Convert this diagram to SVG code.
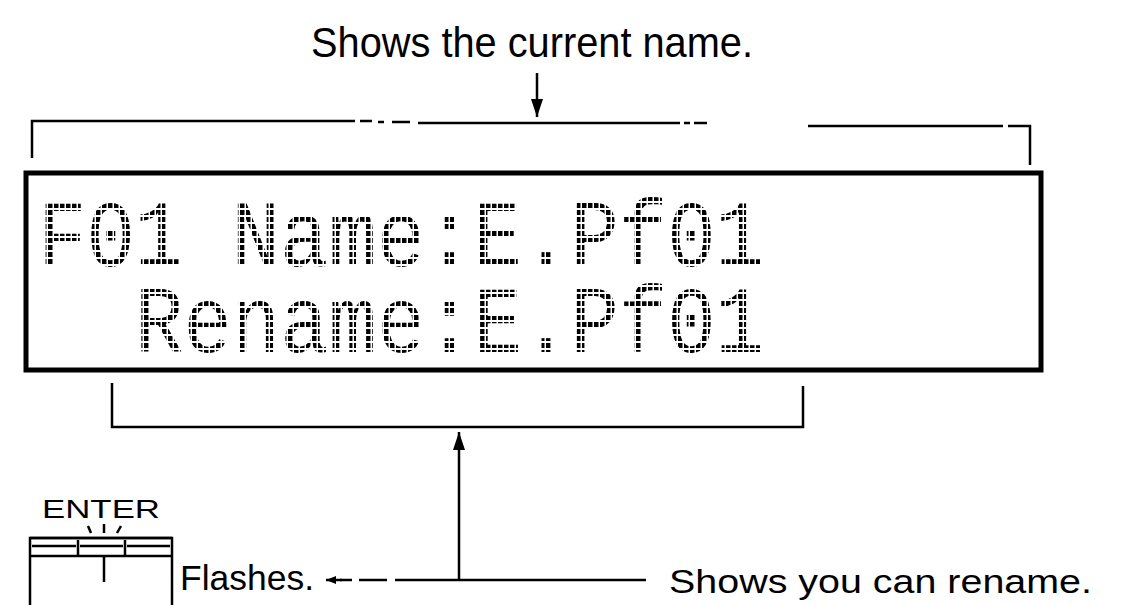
<svg xmlns="http://www.w3.org/2000/svg" width="1125" height="605" viewBox="0 0 1125 605">
  <style>
    .lbl { font-family: "Liberation Sans", Arial, sans-serif; fill: #000; }
    .lcd { font-family: "Liberation Mono", "DejaVu Sans Mono", monospace; fill: url(#dots); }
    .ln { stroke: #000; stroke-width: 2.5; fill: none; }
    .thick { stroke: #000; stroke-width: 5; fill: none; }
  </style>
  <defs>
    <pattern id="dots" width="6" height="7" patternUnits="userSpaceOnUse">
      <rect x="0" y="0" width="4.5" height="5" fill="#000"/>
    </pattern>
    <marker id="arr" viewBox="0 0 18 12" refX="18" refY="6" markerWidth="18" markerHeight="12" markerUnits="userSpaceOnUse" orient="auto">
      <path d="M0,0 L18,6 L0,12 Z" fill="#000"/>
    </marker>
    <marker id="arrSmall" viewBox="0 0 10 8" refX="10" refY="4" markerWidth="10" markerHeight="8" markerUnits="userSpaceOnUse" orient="auto">
      <path d="M0,0 L10,4 L0,8 Z" fill="#000"/>
    </marker>
  </defs>
  <rect width="1125" height="605" fill="#fff"/>

  <g id="label-current">
    <text class="lbl" x="311" y="57" font-size="43" textLength="442" lengthAdjust="spacingAndGlyphs">Shows the current name.</text>
  </g>

  <g id="lcd-display">
    <rect x="26" y="173" width="1015" height="197" class="thick"/>
    <text class="lcd" x="38" y="266" font-size="95" textLength="726" lengthAdjust="spacingAndGlyphs">F01 Name:E.Pf01</text>
    <text class="lcd" x="135" y="352" font-size="95" textLength="629" lengthAdjust="spacingAndGlyphs">Rename:E.Pf01</text>
  </g>

  <g id="enter-key">
    <text class="lbl" x="42" y="518" font-size="26" textLength="118" lengthAdjust="spacingAndGlyphs">ENTER</text>
    <path d="M88,526 L91,533 M104,524 V533 M121,526 L117,533" class="ln" stroke-width="2"/>
    <path d="M30,605 V538 H172 V605" class="ln" stroke-width="3.5"/>
    <path d="M30,538 H172" class="ln" stroke-width="5"/>
    <path d="M32,546 H76 M80,546 H123 M127,546 H170" class="ln" stroke-width="2"/>
    <path d="M78,540 V555 M125,540 V555" class="ln" stroke-width="3"/>
    <path d="M30,556 H172" class="ln" stroke-width="3"/>
    <path d="M104,556 V582" class="ln" stroke-width="2"/>
  </g>

  <g id="label-flashes">
    <text class="lbl" x="180" y="590" font-size="35" textLength="134" lengthAdjust="spacingAndGlyphs">Flashes.</text>
  </g>

  <g id="label-rename">
    <text class="lbl" x="669" y="593" font-size="34" textLength="423" lengthAdjust="spacingAndGlyphs">Shows you can rename.</text>
  </g>

  <g id="connectors">
    <!-- top arrow -->
    <line x1="537" y1="73" x2="537" y2="117" class="ln" marker-end="url(#arr)"/>
    <!-- top bracket -->
    <path d="M32,158 V121 H355" class="ln" stroke-width="3"/>
    <path d="M360,121 H372 M378,122 H384 M392,122 H410 M418,123 H680" class="ln"/>
    <path d="M684,123 H690 M694,123 H707" class="ln"/>
    <path d="M808,126 H1003 M1008,126 H1030 V165" class="ln" stroke-width="3"/>
    <!-- bottom bracket -->
    <path d="M112,383 V427 H803 V386" class="ln" stroke-width="3"/>
    <!-- up arrow -->
    <line x1="459" y1="580" x2="459" y2="432" class="ln" marker-end="url(#arr)"/>
    <!-- bottom line -->
    <path d="M340,580 H352 M359,580 H387 M395,580 H646" class="ln"/>
    <line x1="342" y1="580" x2="326" y2="580" class="ln" marker-end="url(#arrSmall)"/>
  </g>
</svg>
